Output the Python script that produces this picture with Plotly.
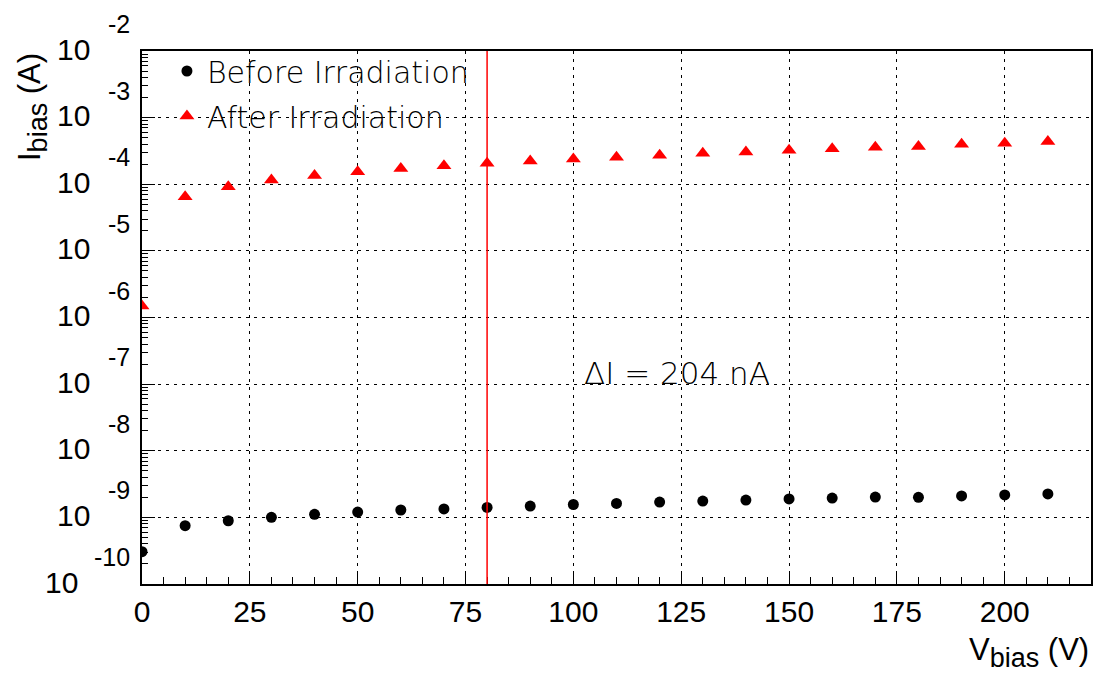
import math
import plotly.graph_objects as go

# ---- data ----
v_bias = [0, 10, 20, 30, 40, 50, 60, 70, 80, 90, 100, 110, 120, 130, 140, 150, 160, 170, 180, 190, 200, 210]
i_before = [3.05e-10, 7.5e-10, 8.9e-10, 1.0e-9, 1.11e-9, 1.2e-9, 1.29e-9, 1.34e-9, 1.41e-9, 1.48e-9, 1.56e-9,
            1.62e-9, 1.70e-9, 1.76e-9, 1.82e-9, 1.89e-9, 1.95e-9, 2.02e-9, 2.0e-9, 2.1e-9, 2.17e-9, 2.25e-9]
i_after = [1.49e-6, 6.5e-5, 9.2e-5, 1.16e-4, 1.35e-4, 1.54e-4, 1.72e-4, 1.89e-4, 2.07e-4, 2.24e-4, 2.40e-4,
           2.54e-4, 2.72e-4, 2.91e-4, 3.06e-4, 3.23e-4, 3.40e-4, 3.58e-4, 3.68e-4, 4.0e-4, 4.14e-4, 4.38e-4]
series_names = ["Before Irradiation", "After Irradiation"]
cut_voltage = 80
delta_label = "ΔI = 204 nA"
delta_pos = (124, 1.47e-7)
x_ticks = [0, 25, 50, 75, 100, 125, 150, 175, 200]
y_exponents = [-10, -9, -8, -7, -6, -5, -4, -3, -2]
x_title = 'V<sub><span style="font-size:27px">bias</span></sub> (V)'
y_title = 'I<sub><span style="font-size:27px">bias</span></sub> (A)'

AXFONT = "Liberation Sans, Arial, Helvetica, sans-serif"
TXFONT = dict(family="DejaVu Sans", size=30, color="black", weight=200)

fig = go.Figure()
fig.add_trace(go.Scatter(x=v_bias, y=i_before, mode="markers", name=series_names[0],
                         legendgroup="a",
                         marker=dict(symbol="circle", size=11, color="black")))
fig.add_trace(go.Scatter(x=v_bias, y=i_after, mode="markers", name=series_names[1],
                         legendgroup="b",
                         marker=dict(symbol="triangle-up", size=13, color="red")))

minor_y = [k * 10.0 ** e for e in y_exponents[:-1] for k in range(2, 10)]

fig.update_xaxes(range=[0, 220], tickvals=x_ticks, ticks="inside", ticklen=13, tickwidth=1,
                 tickcolor="black", showline=True, linecolor="black", linewidth=2, mirror=True,
                 showgrid=True, gridcolor="black", gridwidth=1, griddash="3px,5px",
                 zeroline=False, tickfont=dict(family=AXFONT, size=30, color="black"),
                 minor=dict(dtick=5, ticks="inside", ticklen=7, tickcolor="black", showgrid=False))
fig.update_yaxes(type="log", range=[-10, -2], tickvals=[10.0 ** e for e in y_exponents],
                 showticklabels=False, ticks="inside", ticklen=13, tickcolor="black",
                 showline=True, linecolor="black", linewidth=2, mirror=True,
                 showgrid=True, gridcolor="black", gridwidth=1, griddash="3px,5px", zeroline=False,
                 minor=dict(tickvals=minor_y, ticks="inside", ticklen=6, tickcolor="black", showgrid=False))

fig.add_shape(type="line", xref="x", yref="paper", x0=cut_voltage, x1=cut_voltage, y0=0, y1=1,
              line=dict(color="red", width=1.5))

ann = []
for e in y_exponents:
    exp_txt = str(e)
    ann.append(dict(xref="paper", yref="y", x=0, y=e, text=exp_txt, showarrow=False,
                    xanchor="right", yanchor="middle", xshift=-10, yshift=27,
                    font=dict(family=AXFONT, size=25, color="black")))
    ann.append(dict(xref="paper", yref="y", x=0, y=e, text="10", showarrow=False,
                    xanchor="right", yanchor="middle", xshift=-(50 if len(exp_txt) == 2 else 62), yshift=2,
                    font=dict(family=AXFONT, size=30, color="black")))
ann.append(dict(xref="x", yref="y", x=delta_pos[0], y=math.log10(delta_pos[1]), text=delta_label,
                showarrow=False, xanchor="center", yanchor="middle",
                font=dict(family="DejaVu Sans", size=31, color="black", weight=200)))
ann.append(dict(xref="paper", yref="paper", x=1, y=-68 / 533, text=x_title, showarrow=False,
                xanchor="right", yanchor="middle", font=dict(family=AXFONT, size=31, color="black")))
ann.append(dict(xref="paper", yref="paper", x=0, y=1, text=y_title, showarrow=False, textangle=-90,
                xanchor="center", yanchor="top", xshift=-110,
                font=dict(family=AXFONT, size=31, color="black")))

fig.update_layout(
    width=1100, height=675, autosize=False,
    margin=dict(l=142, r=7, t=51, b=91),
    paper_bgcolor="white", plot_bgcolor="white",
    annotations=ann,
    legend=dict(x=25 / 951, y=1 + 6 / 533, xanchor="left", yanchor="top", bgcolor="rgba(0,0,0,0)",
                font=TXFONT, tracegroupgap=3, traceorder="grouped"),
)

fig.write_html("out.html")
